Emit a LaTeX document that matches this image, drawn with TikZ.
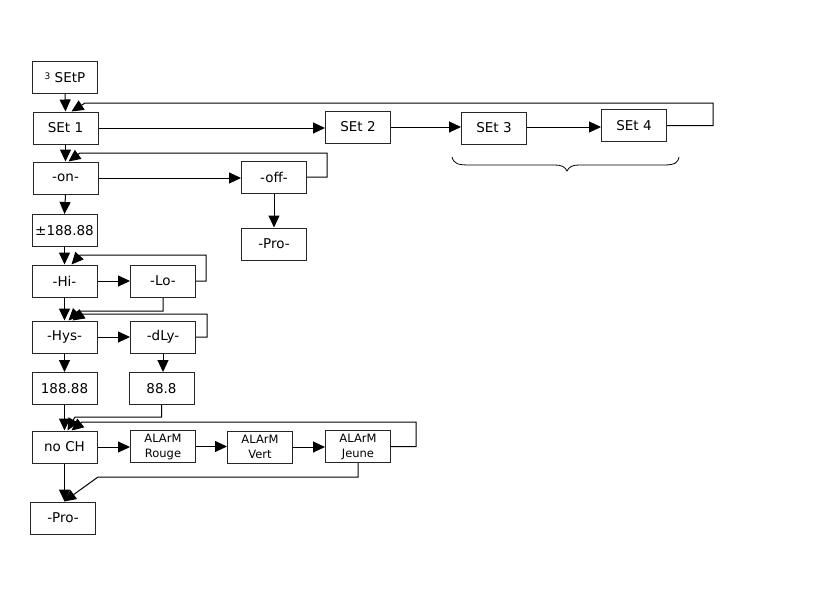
\documentclass[tikz,border=0pt]{standalone}
\usepackage{fontspec}
\setmainfont{DejaVu Sans}
\usetikzlibrary{arrows.meta}
\begin{document}
\begin{tikzpicture}[x=1pt,y=-1pt,
  box/.style={draw=black!85,line width=1pt,minimum width=65pt,minimum height=32pt,inner sep=0pt,font=\fontsize{13.5}{15}\selectfont},
  abox/.style={box,align=center,font=\fontsize{11.5}{15}\selectfont},
  conn/.style={line width=1pt,draw=black,-{Triangle[length=12pt,width=11pt]}},
  line/.style={line width=1pt,draw=black}]
\useasboundingbox (0,0) rectangle (840,594);
\node[box] (setp) at (65,77.5) {\raisebox{3pt}{\fontsize{9}{9}\selectfont 3} SEtP};
\node[box] (set1) at (65.5,128) {SEt 1};
\node[box] (set2) at (358,127) {SEt 2};
\node[box] (set3) at (494,128) {SEt 3};
\node[box] (set4) at (634,125.5) {SEt 4};
\node[box] (on) at (65.5,178) {-on-};
\node[box] (off) at (274,177) {-off-};
\node[box] (pro1) at (274,244) {-Pro-};
\node[box] (pm) at (64.5,230.5) {±188.88};
\node[box] (hi) at (64.5,281) {-Hi-};
\node[box] (lo) at (163,281) {-Lo-};
\node[box] (hys) at (64.5,337) {-Hys-};
\node[box] (dly) at (163,337) {-dLy-};
\node[box] (v1) at (64.5,388.5) {188.88};
\node[box] (v2) at (161.5,388.5) {88.8};
\node[box] (noch) at (64.5,447) {no CH};
\node[abox] (rouge) at (163,446.5) {ALArM\\Rouge};
\node[abox] (vert) at (260,447) {ALArM\\Vert};
\node[abox] (jeune) at (358,446.5) {ALArM\\Jeune};
\node[box] (pro2) at (63,518) {-Pro-};
% vertical main chain
\draw[conn] (setp.south) -- (set1.north);
\draw[conn] (set1.south) -- (on.north);
\draw[conn] (on.south) -- (pm.north);
\draw[conn] (pm.south) -- (hi.north);
\draw[conn] (hi.south) -- (hys.north);
\draw[conn] (hys.south) -- (v1.north);
\draw[conn] (v1.south) -- (noch.north);
\draw[conn] (noch.south) -- (noch.south |- pro2.north);
\draw[conn] (off.south) -- (pro1.north);
\draw[conn] (dly.south) -- (dly.south |- v2.north);
% horizontal arrows
\draw[conn] (set1.east) -- (set1.east -| set2.west);
\draw[conn] (set2.east) -- (set2.east -| set3.west);
\draw[conn] (set3.east |- 0,127) -- (set4.west |- 0,127);
\draw[conn] (on.east) -- (on.east -| off.west);
\draw[conn] (hi.east) -- (lo.west);
\draw[conn] (hys.east) -- (dly.west);
\draw[conn] (noch.east) -- (noch.east -| rouge.west);
\draw[conn] (rouge.east) -- (rouge.east -| vert.west);
\draw[conn] (vert.east) -- (vert.east -| jeune.west);
% return loops
\draw[conn] (set4.east) -- (713,125.5) -- (713,103) -- (85,103) -- ([xshift=6pt]set1.north);
\draw[conn] (off.east) -- (327,177) -- (327,153) -- (80,153) -- ([xshift=3pt]on.north);
\draw[conn] (lo.east) -- (206,281) -- (206,255) -- (80,255) -- ([xshift=7pt]hi.north);
\draw[conn] (lo.south) -- (163,311) -- (78,311) -- ([xshift=4pt]hys.north);
\draw[conn] (dly.east) -- (207,337) -- (207,314) -- (82,314) -- ([xshift=8pt]hys.north);
\draw[conn] (v2.south) -- (161.5,417) -- (75,417) -- ([xshift=3pt]noch.north);
\draw[conn] (jeune.east) -- (416,446.5) -- (416,422) -- (82,422) -- ([xshift=7pt]noch.north);
\draw[conn] (jeune.south) -- (358,477) -- (98,477) -- ([xshift=1pt]pro2.north);
% brace
\draw[line,line width=0.8pt] (452,157) .. controls (454,164) and (458,165) .. (470,165) -- (555,165) .. controls (562,165) and (565,167) .. (567,171) .. controls (569,167) and (572,165) .. (579,165) -- (664,165) .. controls (676,165) and (678,162) .. (679,157);
\end{tikzpicture}
\end{document}
